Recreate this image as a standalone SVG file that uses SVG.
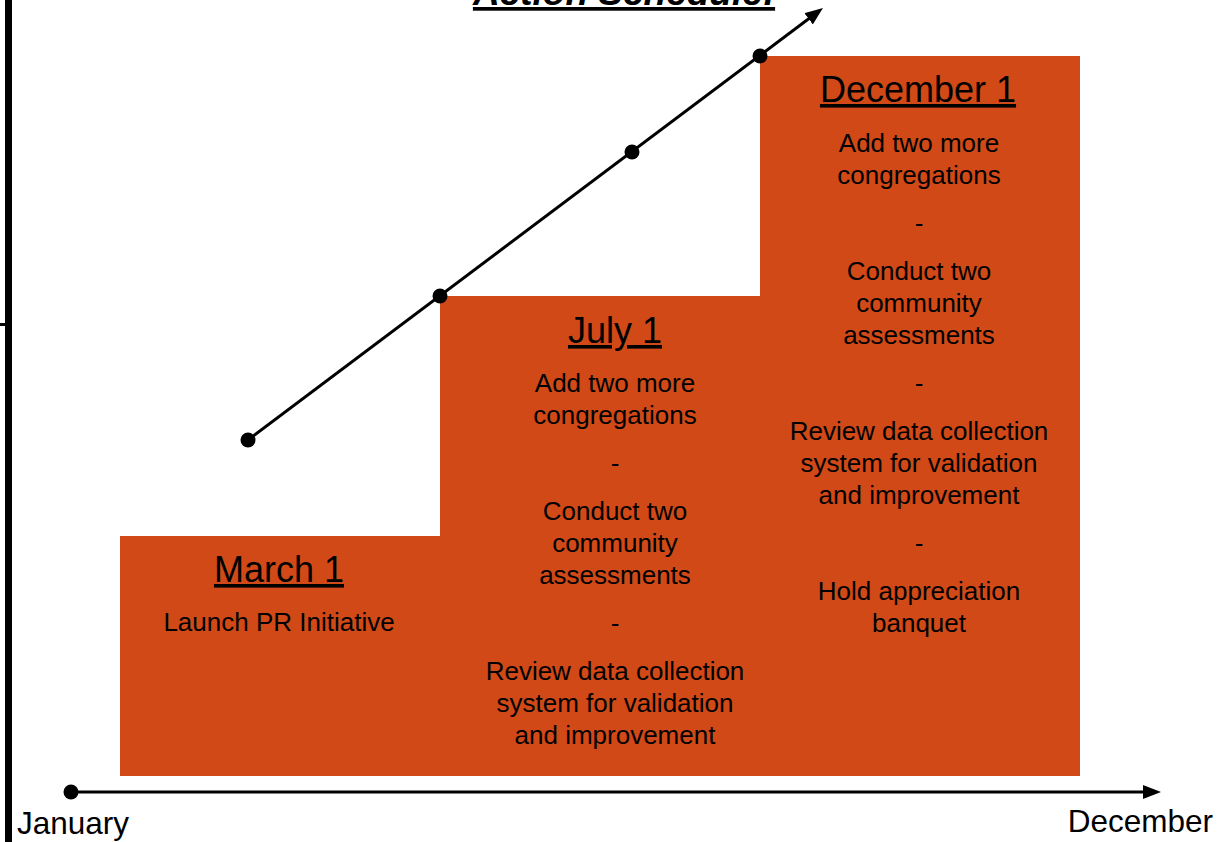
<svg xmlns="http://www.w3.org/2000/svg" width="1224" height="842" viewBox="0 0 1224 842">
<style>
.step{fill:#D14917;stroke:none}
.hd{font-family:"Liberation Sans",Arial,sans-serif;font-size:36px;text-anchor:middle;fill:#000;text-decoration:underline}
.bd{font-family:"Liberation Sans",Arial,sans-serif;font-size:26px;text-anchor:middle;fill:#000}
.lbl{font-family:"Liberation Sans",Arial,sans-serif;font-size:31.5px;fill:#000}
.ttl{font-family:"Liberation Sans",Arial,sans-serif;font-size:37px;font-weight:bold;font-style:italic;text-anchor:middle;fill:#000;text-decoration:underline}
.ln{stroke:#000;stroke-width:3;fill:none}
.dot{fill:#000}
</style>
<defs>
<marker id="ah" markerUnits="userSpaceOnUse" viewBox="0 0 18 14" refX="8" refY="7" markerWidth="18" markerHeight="14" orient="auto">
<path d="M0,0 L18,7 L0,14 Z" fill="#000"/>
</marker>
</defs>
<rect width="1224" height="842" fill="#fff"/>
<g id="frame">
<rect x="5" y="0" width="7" height="842" fill="#000"/>
<rect x="0" y="323" width="6" height="3" fill="#000"/>
</g>
<g id="title">
<text class="ttl" x="624" y="5">Action Schedule:</text>
</g>
<g id="march">
<rect class="step" x="120" y="536" width="320" height="240"/>
<text class="hd" x="279" y="582">March 1</text>
<text class="bd" x="279" y="631">Launch PR Initiative</text>
</g>
<g id="july">
<rect class="step" x="440" y="296" width="320" height="480"/>
<text class="hd" x="615" y="343">July 1</text>
<text class="bd" x="615" y="392">Add two more</text>
<text class="bd" x="615" y="424">congregations</text>
<text class="bd" x="615" y="472">-</text>
<text class="bd" x="615" y="520">Conduct two</text>
<text class="bd" x="615" y="552">community</text>
<text class="bd" x="615" y="584">assessments</text>
<text class="bd" x="615" y="632">-</text>
<text class="bd" x="615" y="680">Review data collection</text>
<text class="bd" x="615" y="712">system for validation</text>
<text class="bd" x="615" y="744">and improvement</text>
</g>
<g id="december">
<rect class="step" x="760" y="56" width="320" height="720"/>
<text class="hd" x="918" y="102">December 1</text>
<text class="bd" x="919" y="152">Add two more</text>
<text class="bd" x="919" y="184">congregations</text>
<text class="bd" x="919" y="232">-</text>
<text class="bd" x="919" y="280">Conduct two</text>
<text class="bd" x="919" y="312">community</text>
<text class="bd" x="919" y="344">assessments</text>
<text class="bd" x="919" y="392">-</text>
<text class="bd" x="919" y="440">Review data collection</text>
<text class="bd" x="919" y="472">system for validation</text>
<text class="bd" x="919" y="504">and improvement</text>
<text class="bd" x="919" y="552">-</text>
<text class="bd" x="919" y="600">Hold appreciation</text>
<text class="bd" x="919" y="632">banquet</text>
</g>
<g id="axis-labels">
<text class="lbl" x="17" y="834">January</text>
<text class="lbl" x="1213" y="832" text-anchor="end">December</text>
</g>
<g id="connectors">
<line class="ln" x1="248" y1="440" x2="815" y2="14" marker-end="url(#ah)"/>
<circle class="dot" cx="248" cy="440" r="7.5"/>
<circle class="dot" cx="440" cy="296" r="7.5"/>
<circle class="dot" cx="632" cy="152" r="7.5"/>
<circle class="dot" cx="760" cy="56" r="7.5"/>
<line class="ln" x1="71" y1="792" x2="1151" y2="792" marker-end="url(#ah)"/>
<circle class="dot" cx="71" cy="792" r="7.5"/>
</g>
</svg>
